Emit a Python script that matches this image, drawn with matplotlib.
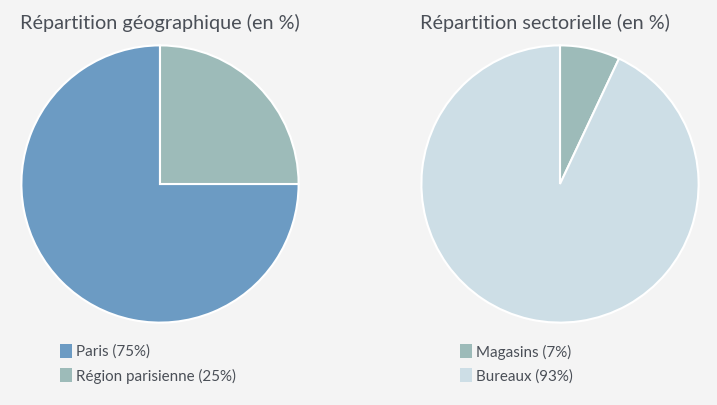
import matplotlib.pyplot as plt
from matplotlib.patches import Rectangle

# donnees
geo_labels = ['Paris', 'Région parisienne']
geo_values = [75, 25]
sect_labels = ['Magasins', 'Bureaux']
sect_values = [7, 93]

geo_colors = ['#6c9bc3', '#9dbbb9']
sect_colors = ['#9dbbb9', '#cddee6']
bg = '#f4f4f4'
txt = '#4a4f57'

plt.rcParams['font.family'] = ['Lato', 'DejaVu Sans']

W, H = 717, 406
fig = plt.figure(figsize=(W / 100, H / 100), dpi=100, facecolor=bg)

def pie_axes(cx, cy, r):
    # cx, cy en pixels depuis le haut
    ax = fig.add_axes([(cx - r) / W, (H - cy - r) / H, 2 * r / W, 2 * r / H])
    ax.set_facecolor(bg)
    ax.axis('off')
    return ax

ax1 = pie_axes(160, 185, 140)
ax1.pie(geo_values, colors=geo_colors, startangle=90, counterclock=True, radius=1,
        wedgeprops=dict(edgecolor='white', linewidth=1.5))
ax1.set_xlim(-1.01, 1.01)
ax1.set_ylim(-1.01, 1.01)

ax2 = pie_axes(560, 185, 140)
ax2.pie(sect_values, colors=sect_colors, startangle=90, counterclock=False, radius=1,
        wedgeprops=dict(edgecolor='white', linewidth=1.5))
ax2.set_xlim(-1.01, 1.01)
ax2.set_ylim(-1.01, 1.01)

fig.text(20 / W, 1 - 23 / H, 'Répartition géographique (en %)', fontsize=14.3,
         color=txt, va='center', ha='left')
fig.text(420 / W, 1 - 23 / H, 'Répartition sectorielle (en %)', fontsize=14.3,
         color=txt, va='center', ha='left')

def legend(x0, y0, labels, values, colors):
    for i, (lab, val, col) in enumerate(zip(labels, values, colors)):
        y = y0 + i * 24.5
        fig.patches.append(Rectangle((x0 / W, 1 - (y + 6.5) / H), 12 / W, 14 / H,
                                     transform=fig.transFigure, facecolor=col,
                                     edgecolor='none'))
        fig.text((x0 + 16) / W, 1 - y / H, '%s (%d%%)' % (lab, val), fontsize=10.9,
                 color=txt, va='center', ha='left')

legend(60, 352, geo_labels, geo_values, geo_colors)
legend(460, 352, sect_labels, sect_values, sect_colors)

fig.savefig('out.png', dpi=100, facecolor=bg)
